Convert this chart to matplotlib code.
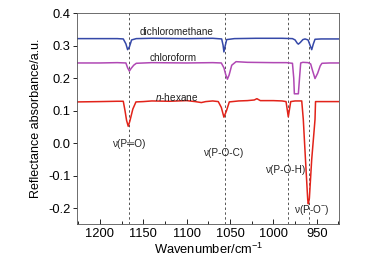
import matplotlib
matplotlib.use('Agg')
import matplotlib.pyplot as plt
from matplotlib.ticker import MultipleLocator

plt.rcParams['font.family'] = ['Liberation Sans', 'DejaVu Sans']
plt.rcParams['mathtext.fontset'] = 'custom'
plt.rcParams['mathtext.rm'] = 'Liberation Sans'
plt.rcParams['mathtext.it'] = 'Liberation Sans:italic'

# dichloromethane (blue)
wn_dcm = [1226, 1200, 1180, 1173, 1170, 1168, 1166, 1163.4, 1158, 1140, 1100, 1070,
          1059.6, 1058, 1057, 1055.5, 1053.8, 1045, 1020, 990, 978, 975, 972.5, 971.2,
          969, 966, 963.5, 960, 957.5, 955.8, 954, 952, 945, 924]
ab_dcm = [0.322, 0.322, 0.322, 0.321, 0.306, 0.288, 0.296, 0.318, 0.322, 0.323, 0.322, 0.323,
          0.321, 0.302, 0.281, 0.300, 0.319, 0.322, 0.323, 0.323, 0.322, 0.318, 0.308, 0.305,
          0.310, 0.319, 0.321, 0.318, 0.300, 0.288, 0.305, 0.320, 0.321, 0.321]

# chloroform (purple)
wn_cf = [1226, 1200, 1180, 1170, 1168, 1166, 1164, 1161, 1158, 1140, 1100, 1070, 1060,
         1057, 1055, 1053, 1051, 1048, 1043, 1030, 1000, 985, 978, 976.5, 975.8, 971.2,
         970, 968.5, 966, 960, 957, 955, 952, 949, 946, 944, 935, 924]
ab_cf = [0.247, 0.247, 0.248, 0.247, 0.232, 0.222, 0.230, 0.240, 0.246, 0.248, 0.247, 0.248, 0.247,
         0.232, 0.212, 0.197, 0.210, 0.240, 0.251, 0.249, 0.248, 0.248, 0.246, 0.200, 0.152, 0.152,
         0.195, 0.247, 0.249, 0.248, 0.244, 0.225, 0.199, 0.215, 0.238, 0.246, 0.247, 0.247]

# n-hexane (red)
wn_hx = [1226, 1200, 1180, 1173, 1171, 1169.2, 1167.3, 1165.4, 1162, 1158.4, 1150, 1140, 1120,
         1100, 1090, 1083, 1078, 1070, 1063.5, 1060, 1057, 1054, 1050.8, 1040, 1030, 1022,
         1019, 1015, 1000, 990, 985.4, 982.8, 980, 975, 967.3, 965.5, 963, 960.4, 959.7,
         958.5, 955.8, 953, 952, 951.4, 940, 924]
ab_hx = [0.127, 0.128, 0.129, 0.129, 0.100, 0.070, 0.052, 0.068, 0.105, 0.127, 0.128, 0.130, 0.129,
         0.131, 0.128, 0.125, 0.128, 0.130, 0.128, 0.110, 0.080, 0.100, 0.127, 0.130, 0.131, 0.133,
         0.137, 0.131, 0.131, 0.130, 0.128, 0.081, 0.128, 0.130, 0.130, 0.073, -0.05, -0.174, -0.187,
         -0.170, -0.050, 0.040, 0.073, 0.128, 0.128, 0.128]

band_pos = [1166, 1056, 983, 958.5]
band_labels = ['\u03bd(P\u2550O)', '\u03bd(P-O-C)', '\u03bd(P-O-H)', '\u03bd(P-O$^{-}$)']
band_label_x = [1166, 1057, 985.4, 955.8]
band_label_y = [-0.004, -0.03, -0.082, -0.207]

fig = plt.figure(figsize=(3.82, 2.62), dpi=100)
ax = fig.add_axes([77.3 / 382, 1 - 224.3 / 262, (339.3 - 77.3) / 382, (224.3 - 13.3) / 262])

for x in band_pos:
    ax.axvline(x, color='#555555', lw=0.7, ls=(0, (2.5, 2.5)), zorder=1)

ax.plot(wn_dcm, ab_dcm, color='#3548a8', lw=1.1, zorder=2)
ax.plot(wn_cf, ab_cf, color='#b048b4', lw=1.1, zorder=2)
ax.plot(wn_hx, ab_hx, color='#e2231a', lw=1.1, zorder=2)

ax.text(1111.5, 0.341, 'dichloromethane', fontsize=7.2, ha='center', va='center', color='#222222')
ax.text(1115.4, 0.261, 'chloroform', fontsize=7.2, ha='center', va='center', color='#222222')
ax.text(1111.5, 0.142, '$\\it{n}$-hexane', fontsize=7.2, ha='center', va='center', color='#222222')
for lx, ly, lab in zip(band_label_x, band_label_y, band_labels):
    ax.text(lx, ly, lab, fontsize=7.2, ha='center', va='center', color='#222222')

ax.set_xlim(1226, 924)
ax.set_ylim(-0.25, 0.4)
ax.xaxis.set_major_locator(MultipleLocator(50))
ax.xaxis.set_minor_locator(MultipleLocator(25))
ax.yaxis.set_major_locator(MultipleLocator(0.1))
ax.yaxis.set_major_formatter(matplotlib.ticker.FormatStrFormatter('%.1f'))
ax.tick_params(axis='x', which='major', direction='in', length=3.5, width=0.6, labelsize=9.3, pad=3)
ax.tick_params(axis='x', which='minor', direction='in', length=2, width=0.6)
ax.tick_params(axis='y', which='major', direction='out', length=3, width=0.6, labelsize=9.3, pad=2)
for s in ax.spines.values():
    s.set_linewidth(0.6)
    s.set_color('#555555')

ax.set_xlabel('Wavenumber/cm$^{-1}$', fontsize=9.3, labelpad=1)
ax.set_ylabel('Reflectance absorbance/a.u.', fontsize=9, labelpad=4)

fig.savefig('out.png', dpi=100)
